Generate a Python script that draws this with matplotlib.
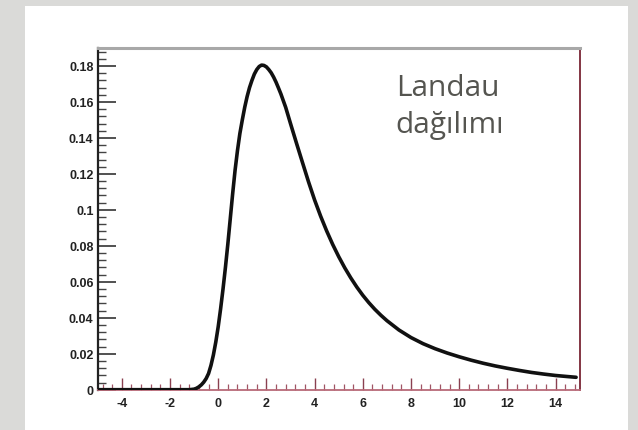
import matplotlib
matplotlib.use("Agg")
import matplotlib.pyplot as plt
from matplotlib.patches import Rectangle
from matplotlib.ticker import MultipleLocator

# curve values
x_vals = [-5.0, -4.0, -3.0, -2.0, -1.2, -1.0, -0.9, -0.8, -0.7, -0.6,
          -0.5, -0.4, -0.3, -0.2, -0.1, 0.0, 0.1, 0.2, 0.3, 0.4,
          0.5, 0.6, 0.7, 0.8, 0.9, 1.0, 1.1, 1.2, 1.3, 1.4,
          1.5, 1.6, 1.7, 1.8, 1.9, 2.0, 2.1, 2.2, 2.3, 2.4,
          2.5, 2.6, 2.8, 3.0, 3.25, 3.5, 3.75, 4.0, 4.25, 4.5,
          4.75, 5.0, 5.25, 5.5, 5.75, 6.0, 6.25, 6.5, 6.75, 7.0,
          7.5, 8.0, 8.5, 9.0, 9.5, 10.0, 10.5, 11.0, 11.5, 12.0,
          12.5, 13.0, 13.5, 14.0, 14.5, 14.85]
y_vals = [0.0, 0.0, 0.0, 0.0, 0.0, 0.0003, 0.0008, 0.0016, 0.0027, 0.0042,
          0.0062, 0.009, 0.0135, 0.0193, 0.0265, 0.035, 0.045, 0.056, 0.068, 0.081,
          0.095, 0.109, 0.122, 0.133, 0.1425, 0.150, 0.157, 0.163, 0.168, 0.172,
          0.1755, 0.178, 0.1797, 0.1805, 0.1803, 0.1795, 0.178, 0.1762, 0.1738, 0.171,
          0.1678, 0.1645, 0.157, 0.148, 0.137, 0.1262, 0.1155, 0.1055, 0.0965, 0.0883,
          0.0808, 0.0740, 0.0678, 0.0622, 0.0571, 0.0525, 0.0484, 0.0447, 0.0414, 0.0384,
          0.0332, 0.0290, 0.0256, 0.0228, 0.0204, 0.0183, 0.0164, 0.0147, 0.0132, 0.0119,
          0.0107, 0.0096, 0.0087, 0.0079, 0.0073, 0.0069]

x_ticks = [-4, -2, 0, 2, 4, 6, 8, 10, 12, 14]
x_tick_labels = ['-4', '-2', '0', '2', '4', '6', '8', '10', '12', '14']
y_ticks = [0, 0.02, 0.04, 0.06, 0.08, 0.1, 0.12, 0.14, 0.16, 0.18]
y_tick_labels = ['0', '0.02', '0.04', '0.06', '0.08', '0.1', '0.12', '0.14', '0.16', '0.18']

title_lines = ['Landau', 'dağılımı']

W, H = 638, 431
fig = plt.figure(figsize=(W / 100, H / 100), dpi=100, facecolor='#dadad8')

# white slide panel, behind the axes
fig.patches.append(Rectangle((25 / W, 0), (628 - 25) / W, (H - 7) / H,
                             transform=fig.transFigure, facecolor='white',
                             edgecolor='none', zorder=-5))

ax = fig.add_axes([97.7 / W, (H - 390.7) / H, (579.7 - 97.7) / W, (390.7 - 49) / H])
ax.set_zorder(1)
ax.set_facecolor('white')

ax.plot(x_vals, y_vals, color='#111111', lw=2.6, solid_capstyle='round',
        solid_joinstyle='round', zorder=3)

ax.set_xlim(-5, 15)
ax.set_ylim(0, 0.19)

ax.set_xticks(x_ticks)
ax.set_xticklabels(x_tick_labels)
ax.set_yticks(y_ticks)
ax.set_yticklabels(y_tick_labels)
ax.xaxis.set_minor_locator(MultipleLocator(0.4))
ax.yaxis.set_minor_locator(MultipleLocator(0.004))

ax.tick_params(axis='y', which='major', direction='in', length=13, width=1.2,
               color='#333333', pad=3, labelsize=9, labelcolor='#222222')
ax.tick_params(axis='y', which='minor', direction='in', length=6, width=1.0,
               color='#444444')
ax.tick_params(axis='x', which='major', direction='in', length=9, width=1.0,
               color='#8a4050', pad=5.5, labelsize=9, labelcolor='#222222')
ax.tick_params(axis='x', which='minor', direction='in', length=4, width=0.9,
               color='#a05565')
for lab in ax.get_xticklabels() + ax.get_yticklabels():
    lab.set_fontweight('bold')
    lab.set_family('Liberation Sans')

ax.spines['left'].set_color('#222222')
ax.spines['left'].set_linewidth(1.6)
ax.spines['top'].set_color('#a8a8a8')
ax.spines['top'].set_linewidth(2.2)
ax.spines['right'].set_color('#7a2535')
ax.spines['right'].set_linewidth(1.3)
ax.spines['bottom'].set_color('#b86a78')
ax.spines['bottom'].set_linewidth(1.3)

fig.text(448 / W, 1 - 95.7 / H, title_lines[0], ha='center', va='baseline',
         fontsize=21.5, family='Open Sans', color='#555550', zorder=5)
fig.text(450 / W, 1 - 133.5 / H, title_lines[1], ha='center', va='baseline',
         fontsize=21.5, family='Open Sans', color='#555550', zorder=5)

fig.savefig('out.png', dpi=100, facecolor=fig.get_facecolor())
